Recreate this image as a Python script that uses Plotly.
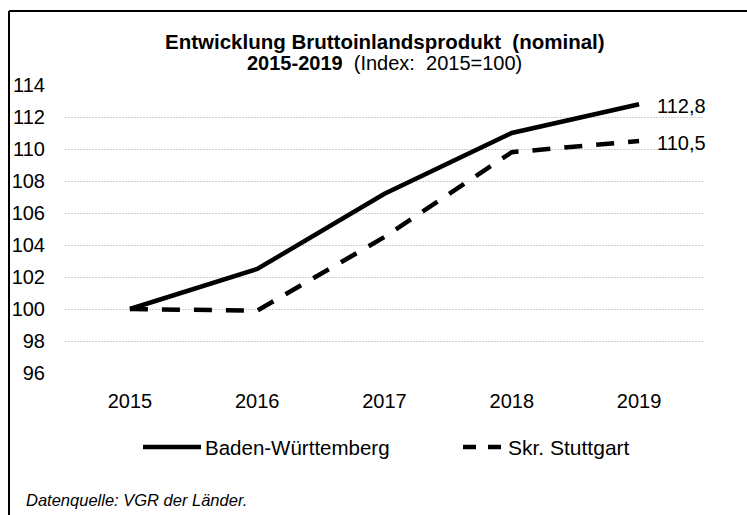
import plotly.graph_objects as go

years = ["2015", "2016", "2017", "2018", "2019"]
bw_values = [100.0, 102.5, 107.2, 111.0, 112.8]
stgt_values = [100.0, 99.9, 104.5, 109.8, 110.5]
series_names = ["Baden-Württemberg", "Skr. Stuttgart"]
end_labels = ["112,8", "110,5"]
y_ticks = [96, 98, 100, 102, 104, 106, 108, 110, 112, 114]

W, H = 747, 515
ML, MR, MT, MB = 65, 43, 85, 142
PW, PH = W - ML - MR, H - MT - MB

FONT = "Liberation Sans, Arial, sans-serif"
FS = 20
DASH = "18px,14px"

fig = go.Figure()
fig.add_trace(go.Scatter(
    x=list(range(len(years))), y=bw_values, mode="lines", name=series_names[0],
    line=dict(color="black", width=4.5), hoverinfo="skip"))
fig.add_trace(go.Scatter(
    x=list(range(len(years))), y=stgt_values, mode="lines", name=series_names[1],
    line=dict(color="black", width=4.5, dash=DASH), hoverinfo="skip"))

def px_x(p):
    return (p - ML) / PW

def px_y(p):
    return 1 - (p - MT) / PH

annotations = [
    dict(x=0.5, y=px_y(42), xref="paper", yref="paper", showarrow=False,
         text="<b>Entwicklung Bruttoinlandsprodukt  (nominal)</b>",
         font=dict(size=20.5, color="black", family=FONT), xanchor="center", yanchor="middle"),
    dict(x=0.5, y=px_y(63), xref="paper", yref="paper", showarrow=False,
         text="<b>2015-2019</b>  (Index:  2015=100)",
         font=dict(size=FS, color="black", family=FONT), xanchor="center", yanchor="middle"),
    dict(x=px_x(24), y=px_y(500), xref="paper", yref="paper", showarrow=False,
         text="<i>Datenquelle: VGR der Länder.</i>",
         font=dict(size=16.5, color="black", family=FONT), xanchor="left", yanchor="middle"),
    # manual legend texts
    dict(x=px_x(203), y=px_y(447), xref="paper", yref="paper", showarrow=False,
         text=series_names[0], font=dict(size=20.5, color="black", family=FONT),
         xanchor="left", yanchor="middle"),
    dict(x=px_x(506), y=px_y(447), xref="paper", yref="paper", showarrow=False,
         text=series_names[1], font=dict(size=21, color="black", family=FONT),
         xanchor="left", yanchor="middle"),
]
for val, lab in zip([bw_values[-1], stgt_values[-1]], end_labels):
    annotations.append(dict(x=len(years) - 1, y=val, xref="x", yref="y", showarrow=False,
                            text=lab, xanchor="left", yanchor="middle", xshift=16, yshift=-2,
                            font=dict(size=FS, color="black", family=FONT)))

shapes = [
    dict(type="line", xref="paper", yref="paper", x0=px_x(9), x1=px_x(9), y0=px_y(11), y1=px_y(530),
         line=dict(color="black", width=2)),
    dict(type="line", xref="paper", yref="paper", x0=px_x(9), x1=px_x(760), y0=px_y(11), y1=px_y(11),
         line=dict(color="black", width=2)),
    # manual legend samples
    dict(type="line", xref="paper", yref="paper", x0=px_x(143), x1=px_x(201), y0=px_y(447), y1=px_y(447),
         line=dict(color="black", width=4.5)),
    dict(type="line", xref="paper", yref="paper", x0=px_x(463), x1=px_x(501), y0=px_y(447), y1=px_y(447),
         line=dict(color="black", width=4.5, dash="13px,12px")),
]

fig.update_layout(
    width=W, height=H,
    margin=dict(l=ML, r=MR, t=MT, b=MB),
    paper_bgcolor="white", plot_bgcolor="white",
    font=dict(family=FONT, size=FS, color="black"),
    showlegend=False,
    annotations=annotations,
    shapes=shapes,
    xaxis=dict(
        tickmode="array", tickvals=list(range(len(years))), ticktext=years,
        range=[-0.51, 4.51], showgrid=False, zeroline=False, showline=False,
        ticks="", ticklabelstandoff=14, tickfont=dict(size=FS, family=FONT, color="black"),
        fixedrange=True,
    ),
    yaxis=dict(
        range=[96, 114], tickmode="array", tickvals=y_ticks, ticktext=[str(v) for v in y_ticks],
        showgrid=True, gridcolor="#cfcfcf", gridwidth=1, griddash="2px,1px",
        zeroline=False, showline=False, ticks="", ticklabelstandoff=19,
        tickfont=dict(size=FS, family=FONT, color="black"), fixedrange=True,
    ),
)

fig.write_html("out.html", config={"displayModeBar": False, "staticPlot": True},
               post_script="document.body.style.margin='0';document.body.style.padding='0';")
